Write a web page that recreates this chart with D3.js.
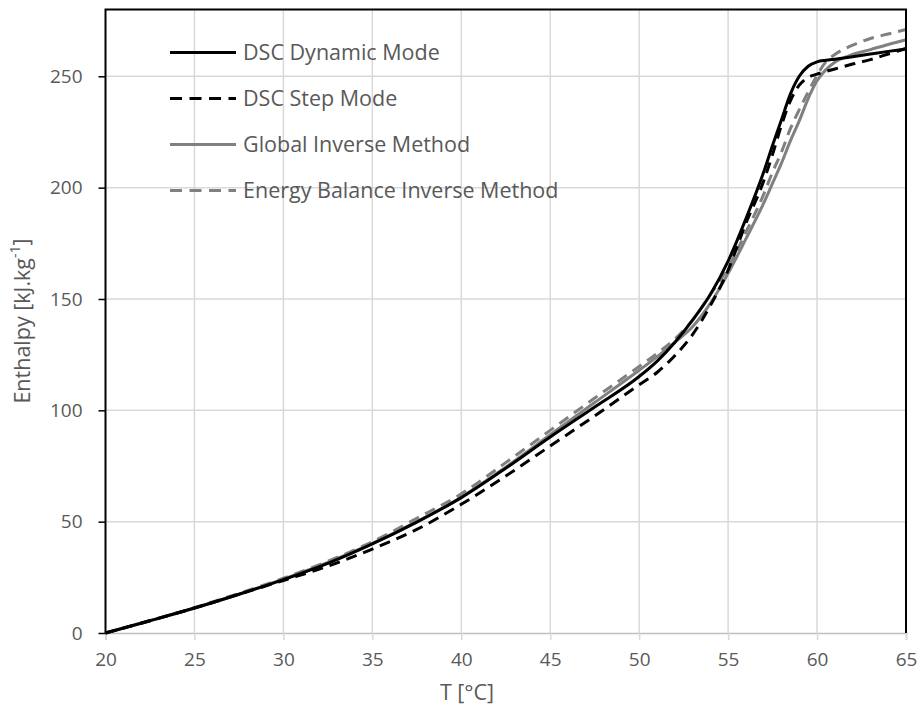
<!DOCTYPE html>
<html lang="en">
<head>
    <meta charset="UTF-8">
    <title>Enthalpy vs temperature</title>
    <script src="https://cdn.jsdelivr.net/npm/d3@7"></script>
    <style>
        body { margin: 0; background: #fff; }
        text { font-family: "Open Sans", sans-serif; fill: #595959; }
    </style>
</head>
<body>
    <div id="chart"></div>
    <script>
        // temperatures [°C]
        const temps = [20, 22.5, 25, 27.5, 30, 32.5, 35, 37.5, 40, 42.5, 45, 47.5, 50, 51, 52, 53, 54, 55, 56, 57, 57.5, 58, 58.5, 59, 59.5, 60, 60.5, 61, 62, 63, 64, 65];

        // enthalpy [kJ/kg]
        const dscDynamic = [0, 5.5, 11.2, 17.4, 24, 31.3, 40, 49.8, 60.8, 74, 88, 101.5, 115.2, 122, 130.5, 140.5, 152, 167, 186, 207, 219, 230.5, 242, 250, 254.5, 256.5, 257.2, 257.7, 258.8, 260, 261.2, 262.3];
        const dscStep = [0, 5.5, 11.2, 17.4, 23.6, 30, 37.7, 46.5, 57.8, 70.5, 84, 97.5, 111.5, 117, 124.5, 134, 147, 163, 184, 203, 215, 228, 239, 246, 249.5, 251, 252.2, 253.3, 255.5, 257.5, 260, 262.5];
        const globalInverse = [0, 5.5, 11.2, 17.4, 24.2, 31.7, 40.2, 50, 61, 74.5, 89, 103.5, 118, 124, 130.5, 137.5, 148, 161.5, 177, 193, 202, 211, 221, 230, 240, 248, 253, 256.3, 259.8, 262, 264.3, 266.4];
        const energyBalance = [0, 5.6, 11.4, 17.8, 24.6, 32.2, 41, 51.5, 62.5, 76.5, 91, 105.5, 119.7, 125.5, 132, 140.5, 152, 164, 180, 197, 207, 216, 226.5, 235, 243, 250.5, 256.5, 259.8, 264, 267, 269, 271];

        const xTicks = [20, 25, 30, 35, 40, 45, 50, 55, 60, 65];
        const yTicks = [0, 50, 100, 150, 200, 250];

        const series = [
            { name: "DSC Dynamic Mode", values: dscDynamic, color: "#000000", dash: null },
            { name: "DSC Step Mode", values: dscStep, color: "#000000", dash: "11,7" },
            { name: "Global Inverse Method", values: globalInverse, color: "#808080", dash: null },
            { name: "Energy Balance Inverse Method", values: energyBalance, color: "#808080", dash: "11,7" }
        ];

        const width = 920, height = 706;
        const margin = { top: 9.5, right: 14, bottom: 73, left: 105.5 };

        const svg = d3.select("#chart").append("svg")
            .attr("width", width)
            .attr("height", height);

        const x = d3.scaleLinear().domain([20, 65]).range([margin.left, width - margin.right]);
        const y = d3.scaleLinear().domain([0, 280]).range([height - margin.bottom, margin.top]);

        // grid
        svg.append("g").selectAll("line")
            .data(xTicks.slice(1, -1))
            .join("line")
            .attr("x1", d => x(d)).attr("x2", d => x(d))
            .attr("y1", y(280)).attr("y2", y(0))
            .attr("stroke", "#d9d9d9").attr("stroke-width", 1.5);

        svg.append("g").selectAll("line")
            .data(yTicks.slice(1))
            .join("line")
            .attr("x1", x(20)).attr("x2", x(65))
            .attr("y1", d => y(d)).attr("y2", d => y(d))
            .attr("stroke", "#d9d9d9").attr("stroke-width", 1.5);

        // bottom axis (gray)
        const xAxis = svg.append("g")
            .attr("transform", `translate(0,${y(0)})`)
            .call(d3.axisBottom(x).tickValues(xTicks).tickSize(7).tickPadding(13));
        xAxis.select(".domain").attr("stroke", "#bfbfbf").attr("stroke-width", 1.5);
        xAxis.selectAll(".tick line").attr("stroke", "#d9d9d9").attr("stroke-width", 1.5);
        xAxis.selectAll("text").attr("font-size", 19).attr("fill", "#595959")
            .attr("font-family", "'Open Sans', sans-serif");

        // left axis (black)
        const yAxis = svg.append("g")
            .attr("transform", `translate(${x(20)},0)`)
            .call(d3.axisLeft(y).tickValues(yTicks).tickSize(7).tickPadding(16));
        yAxis.select(".domain").remove();
        yAxis.selectAll(".tick line").attr("stroke", "#000").attr("stroke-width", 1.5);
        yAxis.selectAll("text").attr("font-size", 19).attr("fill", "#595959")
            .attr("font-family", "'Open Sans', sans-serif");

        // series
        const line = d3.line()
            .x((d, i) => x(temps[i]))
            .y(d => y(d))
            .curve(d3.curveMonotoneX);

        // draw gray ones first so black sits on top where they overlap
        [series[2], series[3], series[1], series[0]].forEach(s => {
            svg.append("path")
                .datum(s.values)
                .attr("d", line)
                .attr("fill", "none")
                .attr("stroke", s.color)
                .attr("stroke-width", 3)
                .attr("stroke-dasharray", s.dash);
        });

        // frame: left, top, right in black
        svg.append("path")
            .attr("d", `M${x(20)},${y(0)}V${y(280)}H${x(65)}V${y(0)}`)
            .attr("fill", "none")
            .attr("stroke", "#000")
            .attr("stroke-width", 2);

        // legend
        const legend = svg.append("g");
        series.forEach((s, i) => {
            const ly = 52.5 + i * 46;
            legend.append("line")
                .attr("x1", 170).attr("x2", 236)
                .attr("y1", ly).attr("y2", ly)
                .attr("stroke", s.color).attr("stroke-width", 3)
                .attr("stroke-dasharray", s.dash ? "12,7.5" : null);
            legend.append("text")
                .attr("x", 243).attr("y", ly)
                .attr("dy", "0.35em")
                .attr("font-size", 21.5)
                .text(s.name);
        });

        // axis titles
        svg.append("text")
            .attr("x", 467).attr("y", 692)
            .attr("dy", "0.35em")
            .attr("text-anchor", "middle")
            .attr("font-size", 21.5)
            .text("T [°C]");

        const yTitle = svg.append("text")
            .attr("transform", "translate(22,321) rotate(-90)")
            .attr("dy", "0.35em")
            .attr("text-anchor", "middle")
            .attr("font-size", 21.5);
        yTitle.append("tspan").text("Enthalpy [kJ.kg");
        yTitle.append("tspan").attr("font-size", 14).attr("dy", "-0.7em").text("-1");
        yTitle.append("tspan").attr("dy", "0.45em").text("]");
    </script>
</body>
</html>
